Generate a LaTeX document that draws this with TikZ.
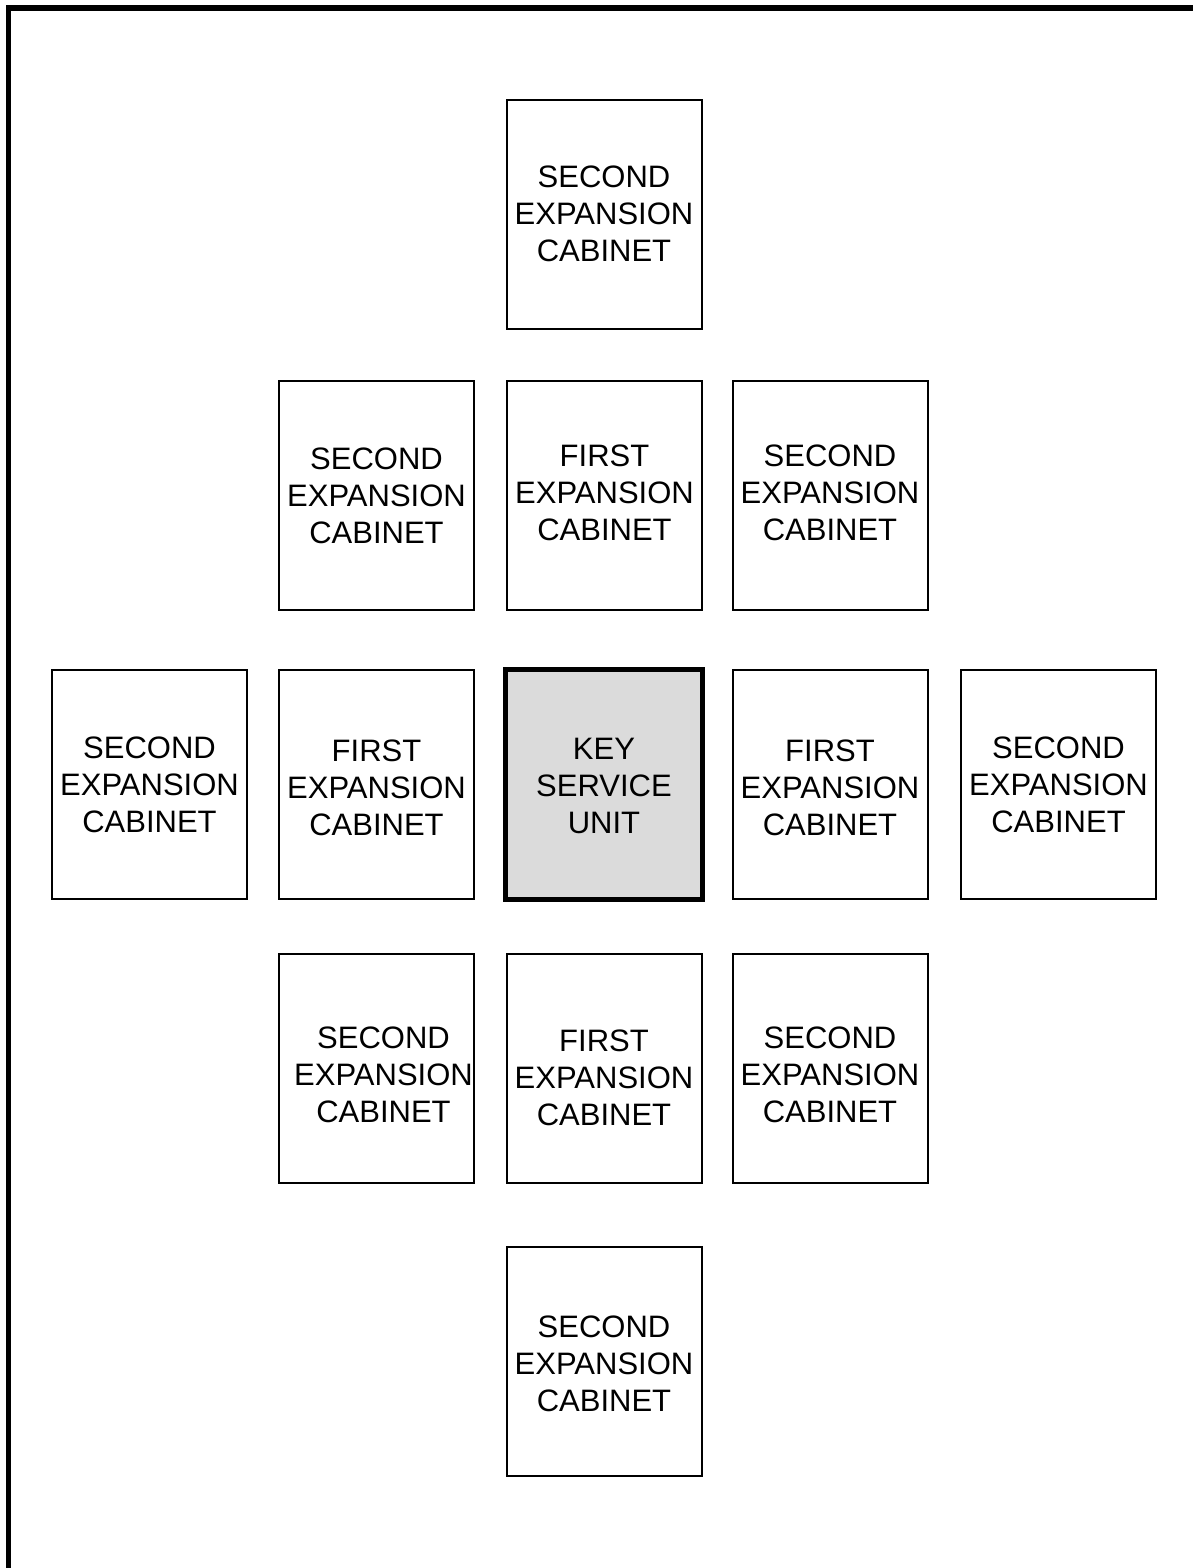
\documentclass[tikz,border=0pt]{standalone}
\usepackage{fontspec}
\setmainfont{Liberation Sans}
\begin{document}
\begin{tikzpicture}[x=0.5pt,y=-0.5pt,
  cab/.style={draw=black,line width=1pt,fill=white,minimum width=97.5pt,minimum height=114.5pt,inner sep=0pt},
  ksu/.style={cab,line width=2.5pt,fill=black!14,minimum width=98.5pt,minimum height=115pt},
  txt/.style={inner sep=0pt,align=center,font=\fontsize{15.5}{18.5}\selectfont}]
\useasboundingbox (0,0) rectangle (1193,1568);
% frame
\draw[line width=2.8pt] (8.5,1568) -- (8.5,8) -- (1193,8);
% top
\node[cab] (t) at (604.5,214.5) {};
\node[txt] (tt) at (604,214) {SECOND\\EXPANSION\\CABINET};
% row 2
\node[cab] (r2a) at (376.5,495.5) {};
\node[txt] (r2at) at (376.5,496) {SECOND\\EXPANSION\\CABINET};
\node[cab] (r2b) at (604.5,495.5) {};
\node[txt] (r2bt) at (604.5,493) {FIRST\\EXPANSION\\CABINET};
\node[cab] (r2c) at (830,495.5) {};
\node[txt] (r2ct) at (830,493) {SECOND\\EXPANSION\\CABINET};
% row 3
\node[cab] (r3a) at (149.5,784) {};
\node[txt] (r3at) at (149.5,785) {SECOND\\EXPANSION\\CABINET};
\node[cab] (r3b) at (376.5,784) {};
\node[txt] (r3bt) at (376.5,788) {FIRST\\EXPANSION\\CABINET};
\node[ksu] (k) at (604,784) {};
\node[txt] (kt) at (604,786) {KEY\\SERVICE\\UNIT};
\node[cab] (r3d) at (830,784) {};
\node[txt] (r3dt) at (830,788) {FIRST\\EXPANSION\\CABINET};
\node[cab] (r3e) at (1058.5,784) {};
\node[txt] (r3et) at (1058.5,785) {SECOND\\EXPANSION\\CABINET};
% row 4
\node[cab] (r4a) at (376.5,1068.5) {};
\node[txt] (r4at) at (383.5,1075) {SECOND\\EXPANSION\\CABINET};
\node[cab] (r4b) at (604.5,1068.5) {};
\node[txt] (r4bt) at (604,1078) {FIRST\\EXPANSION\\CABINET};
\node[cab] (r4c) at (830,1068.5) {};
\node[txt] (r4ct) at (830,1075) {SECOND\\EXPANSION\\CABINET};
% bottom
\node[cab] (b) at (604.5,1361) {};
\node[txt] (bt) at (604,1364) {SECOND\\EXPANSION\\CABINET};
\end{tikzpicture}
\end{document}
